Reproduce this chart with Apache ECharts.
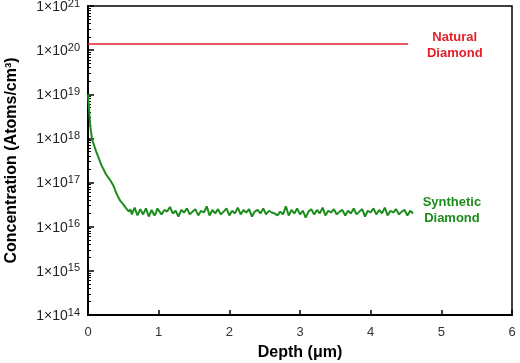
<!DOCTYPE html>
<html>
<head>
<meta charset="utf-8">
<script src="https://cdn.jsdelivr.net/npm/echarts@6/dist/echarts.min.js"></script>
<style>html,body{margin:0;padding:0;background:#fff}#c{width:520px;height:363px}</style>
</head>
<body>
<div id="c"></div>
<script>
// ---- data ----
const xTicks = [0, 1, 2, 3, 4, 5, 6];
const yTickExponents = [14, 15, 16, 17, 18, 19, 20, 21];

const naturalDepth = [0, 4.53];
const naturalConc = [1.37e20, 1.37e20];

const syntheticDepth = [
  0, 0.01, 0.02, 0.03, 0.04, 0.06, 0.08, 0.10, 0.12, 0.14, 0.16, 0.18, 0.20, 0.22, 0.24, 0.26, 0.28, 0.30,
  0.32, 0.34, 0.36, 0.38, 0.40, 0.42, 0.44, 0.46, 0.48, 0.50, 0.52, 0.54, 0.56, 0.58, 0.60,
  0.62, 0.64, 0.66, 0.68, 0.70, 0.72, 0.74, 0.76, 0.78, 0.80, 0.82, 0.84, 0.86, 0.88, 0.90, 0.92, 0.94, 0.96, 0.98,
  1.00, 1.04, 1.08, 1.12, 1.16, 1.20, 1.24, 1.28,
  1.32, 1.36, 1.40, 1.44, 1.48, 1.52, 1.56, 1.60, 1.64, 1.68, 1.72, 1.76, 1.80, 1.84, 1.88, 1.92, 1.96,
  2.00, 2.04, 2.08, 2.12, 2.16, 2.20, 2.24, 2.28, 2.32, 2.36, 2.40, 2.44, 2.48, 2.52, 2.56, 2.60, 2.64,
  2.68, 2.72, 2.76, 2.80, 2.84, 2.88, 2.92, 2.96, 3.00, 3.04, 3.08, 3.12, 3.16, 3.20, 3.24, 3.28, 3.32,
  3.36, 3.40, 3.44, 3.48, 3.52, 3.56, 3.60, 3.64, 3.68, 3.72, 3.76, 3.80, 3.84, 3.88, 3.92, 3.96, 4.00,
  4.04, 4.08, 4.12, 4.16, 4.20, 4.24, 4.28, 4.32, 4.36, 4.40, 4.44, 4.48, 4.52, 4.56, 4.60
];
const syntheticConc = [
  1.0e19, 6e18, 3.5e18, 2.2e18, 1.5e18, 9e17, 7.5e17, 6e17, 4.8e17, 4e17, 3.3e17, 2.7e17, 2.3e17, 2e17, 1.7e17, 1.5e17, 1.35e17, 1.25e17,
  1.1e17, 1.0e17, 8.5e16, 7e16, 5.8e16, 5e16, 4.3e16, 3.8e16, 3.5e16, 3.2e16, 2.9e16, 2.6e16, 2.4e16, 2.2e16, 2.5e16,
  1.9e16, 2.0e16, 2.7e16, 2.6e16, 1.8e16, 1.9e16, 2.5e16, 2.4e16, 1.9e16, 2.1e16, 2.6e16, 2.7e16, 1.7e16, 1.8e16, 2.4e16, 2.3e16, 1.8e16, 2.0e16, 2.6e16,
  2.5e16, 1.9e16, 2.4e16, 2.2e16, 2.8e16, 2.0e16, 2.3e16, 1.7e16,
  2.4e16, 2.1e16, 2.6e16, 1.9e16, 2.2e16, 2.5e16, 1.8e16, 2.3e16, 2.1e16, 2.9e16, 1.8e16, 2.4e16, 2.0e16, 2.5e16, 1.9e16, 2.2e16, 2.6e16,
  1.8e16, 2.3e16, 2.0e16, 2.7e16, 1.9e16, 2.4e16, 2.1e16, 2.5e16, 1.7e16, 2.2e16, 2.4e16, 2.0e16, 2.6e16, 1.9e16, 2.3e16, 2.1e16, 2.0e16,
  1.8e16, 2.2e16, 1.9e16, 2.9e16, 1.8e16, 2.4e16, 2.0e16, 2.6e16, 1.9e16, 2.3e16, 1.6e16, 2.2e16, 2.5e16, 1.9e16, 2.4e16, 2.0e16, 2.7e16,
  1.8e16, 2.3e16, 2.1e16, 2.5e16, 1.9e16, 2.2e16, 2.4e16, 1.8e16, 2.3e16, 2.0e16, 2.6e16, 1.9e16, 2.2e16, 2.5e16, 1.7e16, 2.3e16, 2.1e16,
  2.6e16, 1.9e16, 2.4e16, 2.0e16, 2.7e16, 1.8e16, 2.3e16, 2.1e16, 2.5e16, 1.9e16, 2.2e16, 2.4e16, 1.8e16, 2.3e16, 2.0e16
];

const annotations = [
  { text: 'Natural\nDiamond', x: 5.19, y: 1.25e20, color: '#e3202a' },
  { text: 'Synthetic\nDiamond', x: 5.15, y: 2.4e16, color: '#1c8c1c' }
];

// ---- chart ----
const supMap = {};
yTickExponents.forEach(e => supMap[e] = String(e));

const chart = echarts.init(document.getElementById('c'), null, { renderer: 'canvas' });
const font = 'Liberation Sans, Arial, sans-serif';

chart.setOption({
  animation: false,
  backgroundColor: '#fff',
  grid: { left: 88, right: 8, top: 6, bottom: 48, show: true, borderColor: '#000', borderWidth: 1.5, containLabel: false, outerBoundsMode: 'none' },
  xAxis: {
    type: 'value', min: xTicks[0], max: xTicks[xTicks.length - 1], interval: 1,
    name: 'Depth (\u03bcm)', nameLocation: 'middle', nameGap: 30,
    nameTextStyle: { fontFamily: font, fontWeight: 'bold', fontSize: 16, color: '#000' },
    axisLine: { lineStyle: { color: '#000', width: 2 } },
    axisTick: { inside: true, length: 5, lineStyle: { color: '#000', width: 1.5 } },
    axisLabel: { fontFamily: font, fontSize: 13, color: '#333', margin: 11 },
    splitLine: { show: false }
  },
  yAxis: {
    type: 'log', logBase: 10, min: 1e14, max: 1e21,
    name: 'Concentration (Atoms/cm\u00b3)', nameLocation: 'middle', nameGap: 68, nameRotate: 90,
    nameTextStyle: { fontFamily: font, fontWeight: 'bold', fontSize: 16, color: '#000' },
    axisLine: { lineStyle: { color: '#000', width: 2 } },
    axisTick: { inside: true, length: 6, lineStyle: { color: '#000', width: 1.5 } },
    minorTick: { show: true, splitNumber: 9, length: 3, lineStyle: { color: '#000', width: 1 } },
    axisLabel: {
      margin: 8,
      formatter: v => {
        const e = Math.round(Math.log10(v));
        return '{b|1\u00d710}{s|' + supMap[e] + '}';
      },
      rich: {
        b: { fontFamily: font, fontSize: 14, color: '#222', verticalAlign: 'bottom', lineHeight: 16 },
        s: { fontFamily: font, fontSize: 11, color: '#222', verticalAlign: 'top', lineHeight: 16, padding: [0, 0, 5, 0] }
      }
    },
    splitLine: { show: false }
  },
  series: [
    {
      type: 'line', name: 'Natural Diamond', showSymbol: false, symbol: 'none',
      data: naturalDepth.map((d, i) => [d, naturalConc[i]]),
      lineStyle: { color: '#e3202a', width: 1.5 }, z: 3
    },
    {
      type: 'line', name: 'Synthetic Diamond', showSymbol: false, symbol: 'none',
      data: syntheticDepth.map((d, i) => [d, syntheticConc[i]]),
      lineStyle: { color: '#1c8c1c', width: 2 }, z: 3
    }
  ]
});

const graphics = annotations.map(a => {
  const p = chart.convertToPixel({ gridIndex: 0 }, [a.x, a.y]);
  return {
    type: 'text', x: p[0], y: p[1],
    style: { text: a.text, fill: a.color, font: 'bold 13px ' + font, align: 'center', verticalAlign: 'middle', lineHeight: 16 }
  };
});
chart.setOption({ graphic: graphics });
</script>
</body>
</html>
